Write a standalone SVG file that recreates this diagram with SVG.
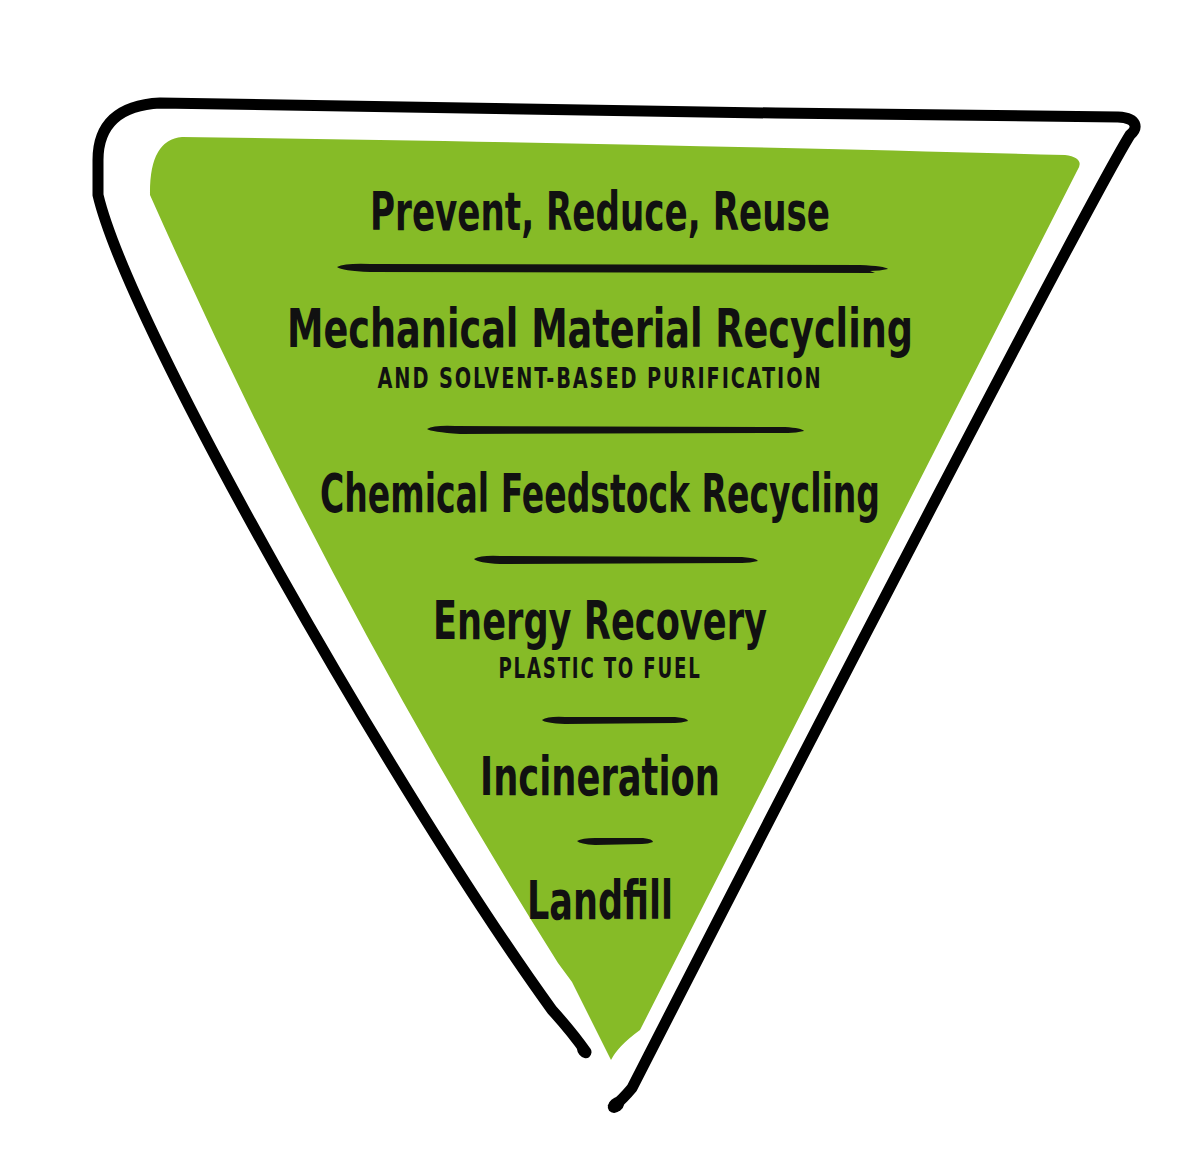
<svg xmlns="http://www.w3.org/2000/svg" width="1200" height="1173" viewBox="0 0 1200 1173">
  <style>
    .head { font-family: "Liberation Sans Narrow", "DejaVu Sans Condensed", "Liberation Sans", sans-serif; font-weight: bold; font-size: 53px; fill: #111; text-anchor: middle; }
    .sub { font-family: "Liberation Sans Narrow", "DejaVu Sans Condensed", "Liberation Sans", sans-serif; font-weight: bold; font-size: 28px; letter-spacing: 2.5px; fill: #111; text-anchor: middle; }
    .brush { fill: #111; }
    .outline { fill: none; stroke: #000; stroke-width: 11; stroke-linecap: round; stroke-linejoin: round; }
  </style>
  <rect width="1200" height="1173" fill="#ffffff"/>

  <g id="pyramid">
    <path id="green-fill" fill="#86bb27" d="M 182,137 C 450,140 800,148 1065,155 Q 1086,158 1077,171 L 640,1030 Q 618,1046 611,1060 L 572,982 L 558,963 Q 330,600 150,195 Q 149,140 182,137 Z"/>
    <path id="outline" class="outline" d="M 586,1052 C 572,1032 562,1021 552,1010 C 400,800 130,330 98,195 L 98,160 C 98,125 118,105 160,103 C 400,108 800,114 1118,117 C 1138,118 1138,128 1130,135 C 1090,200 820,720 632,1088 Q 622,1100 614,1106"/>
    <ellipse cx="584" cy="1051" rx="8" ry="6" transform="rotate(50 584 1051)"/>
    <ellipse cx="616" cy="1105" rx="9" ry="7" transform="rotate(-40 616 1105)"/>
  </g>

  <g id="separators">
    <path class="brush" d="M 337,267 Q 345,263 370,264 L 860,265 Q 885,266 888,269 Q 880,271 870,271 L 875,273 L 370,272 Q 342,271 337,267 Z"/>
    <path class="brush" d="M 427,429 Q 434,425 455,426 L 785,427 Q 802,428 804,431 Q 796,433 788,433 L 460,434 Q 431,432 427,429 Z"/>
    <path class="brush" d="M 474,559 Q 481,555 500,556 L 742,557 Q 757,558 758,561 Q 750,563 742,563 L 500,564 Q 478,563 474,559 Z"/>
    <path class="brush" d="M 542,720 Q 548,716 565,717 L 675,717 Q 688,718 688,721 Q 681,723 675,723 L 565,724 Q 545,723 542,720 Z"/>
    <path class="brush" d="M 577,841 Q 582,838 595,838 L 643,838 Q 653,839 653,842 Q 648,844 642,844 L 595,845 Q 580,844 577,841 Z"/>
  </g>

  <g id="tier-prevent">
    <text class="head" x="600" y="230" textLength="460" lengthAdjust="spacingAndGlyphs">Prevent, Reduce, Reuse</text>
  </g>
  <g id="tier-mechanical">
    <text class="head" x="600" y="347" textLength="626" lengthAdjust="spacingAndGlyphs">Mechanical Material Recycling</text>
    <text class="sub" x="600" y="388" textLength="445" lengthAdjust="spacingAndGlyphs">AND SOLVENT-BASED PURIFICATION</text>
  </g>
  <g id="tier-chemical">
    <text class="head" x="600" y="512" textLength="560" lengthAdjust="spacingAndGlyphs">Chemical Feedstock Recycling</text>
  </g>
  <g id="tier-energy">
    <text class="head" x="600" y="639" textLength="334" lengthAdjust="spacingAndGlyphs">Energy Recovery</text>
    <text class="sub" x="600" y="678" textLength="203" lengthAdjust="spacingAndGlyphs">PLASTIC TO FUEL</text>
  </g>
  <g id="tier-incineration">
    <text class="head" x="600" y="795" textLength="240" lengthAdjust="spacingAndGlyphs">Incineration</text>
  </g>
  <g id="tier-landfill">
    <text class="head" x="600" y="919" textLength="146" lengthAdjust="spacingAndGlyphs">Landfill</text>
  </g>
</svg>
